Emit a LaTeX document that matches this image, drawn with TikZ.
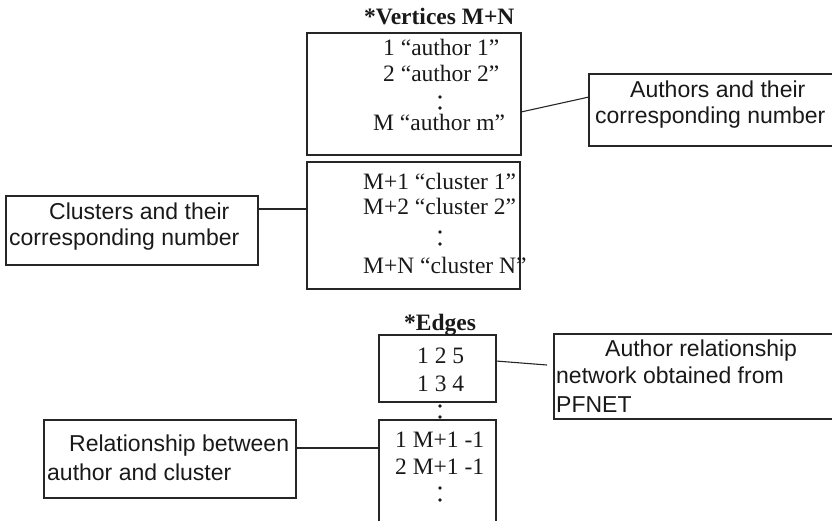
\documentclass[tikz,border=0pt]{standalone}
\usepackage{fontspec}
\setmainfont{Liberation Serif}
\newfontfamily\labelfont{Liberation Sans}
\usetikzlibrary{calc}
\begin{document}
\begin{tikzpicture}[x=1pt,y=-1pt,
  box/.style={draw=black!85, line width=1.2pt, inner sep=0pt, outer sep=0pt, anchor=north west},
  conn/.style={draw=black!85, line width=1.1pt},
  st/.style={font=\fontsize{23.5}{26}\selectfont, inner sep=0pt, anchor=base west, text=black!90},
  sb/.style={font=\bfseries\fontsize{23.5}{26}\selectfont, inner sep=0pt, anchor=base west, text=black!90},
  sa/.style={font=\labelfont\fontsize{23}{26}\selectfont, inner sep=0pt, anchor=base west, text=black!90},
  vdot/.style={fill=black!90}]
\useasboundingbox (0,0) rectangle (832,520);
\clip (0,0) rectangle (832,520);

% boxes
\node[box, minimum width=214pt, minimum height=122pt] (va) at (307,33) {};
\node[box, minimum width=213pt, minimum height=127pt] (vc) at (307,162) {};
\node[box, minimum width=280pt, minimum height=72pt] (ab) at (589,74) {};
\node[box, minimum width=252pt, minimum height=69pt] (cl) at (6,196) {};
\node[box, minimum width=117pt, minimum height=67pt] (e1) at (379,335) {};
\node[box, minimum width=117pt, minimum height=112pt] (e2) at (379,420) {};
\node[box, minimum width=300pt, minimum height=85pt] (pf) at (554,334) {};
\node[box, minimum width=252pt, minimum height=78pt] (rel) at (44,420) {};

% titles
\node[sb] (tv) at (364,24) {*Vertices M+N};
\node[sb] (te) at (404,330) {*Edges};

% vertex texts
\node[st] (a1) at (383,55) {1 “author 1”};
\node[st] (a2) at (383,81) {2 “author 2”};
\node[st] (am) at (373,130) {M “author m”};
\fill[vdot] (440,97) circle (1.9pt) (440,108) circle (1.9pt);

\node[st] (c1) at (363,189) {M+1 “cluster 1”};
\node[st] (c2) at (363,214) {M+2 “cluster 2”};
\node[st] (cn) at (363,273) {M+N “cluster N”};
\fill[vdot] (440,232) circle (1.9pt) (440,244) circle (1.9pt);

% edge texts
\node[st] (r1) at (417,363) {1 2 5};
\node[st] (r2) at (417,391) {1 3 4};
\fill[vdot] (440,406) circle (1.9pt) (440,417) circle (1.9pt);
\node[st] (r3) at (395,447) {1 M+1 -1};
\node[st] (r4) at (395,474) {2 M+1 -1};
\fill[vdot] (440,488) circle (1.9pt) (440,500) circle (1.9pt);

% label texts
\node[sa] (l1) at (630,97) {Authors and their};
\node[sa] (l2) at (595,123) {corresponding number};
\node[sa] (l3) at (49,219) {Clusters and their};
\node[sa] (l4) at (9,245) {corresponding number};
\node[sa] (l5) at (605,356) {Author relationship};
\node[sa] (l6) at (556,383) {network obtained from};
\node[sa] (l7) at (556,412) {PFNET};
\node[sa] (l8) at (69,451) {Relationship between};
\node[sa] (l9) at (47,480) {author and cluster};

% connectors
\coordinate (pfend) at ($(pf.north west)+(-7,31)$);
\draw[conn] ($(va.north east)+(0,79)$) -- ($(ab.north west)+(0,23)$);
\draw[conn] ($(cl.north east)+(0,13)$) -- ($(vc.north west)+(0,47)$);
\draw[conn] ($(e1.north east)+(0,26)$) -- (pfend);
\draw[conn] ($(rel.north east)+(0,28)$) -- ($(e2.north west)+(0,28)$);
\end{tikzpicture}
\end{document}
